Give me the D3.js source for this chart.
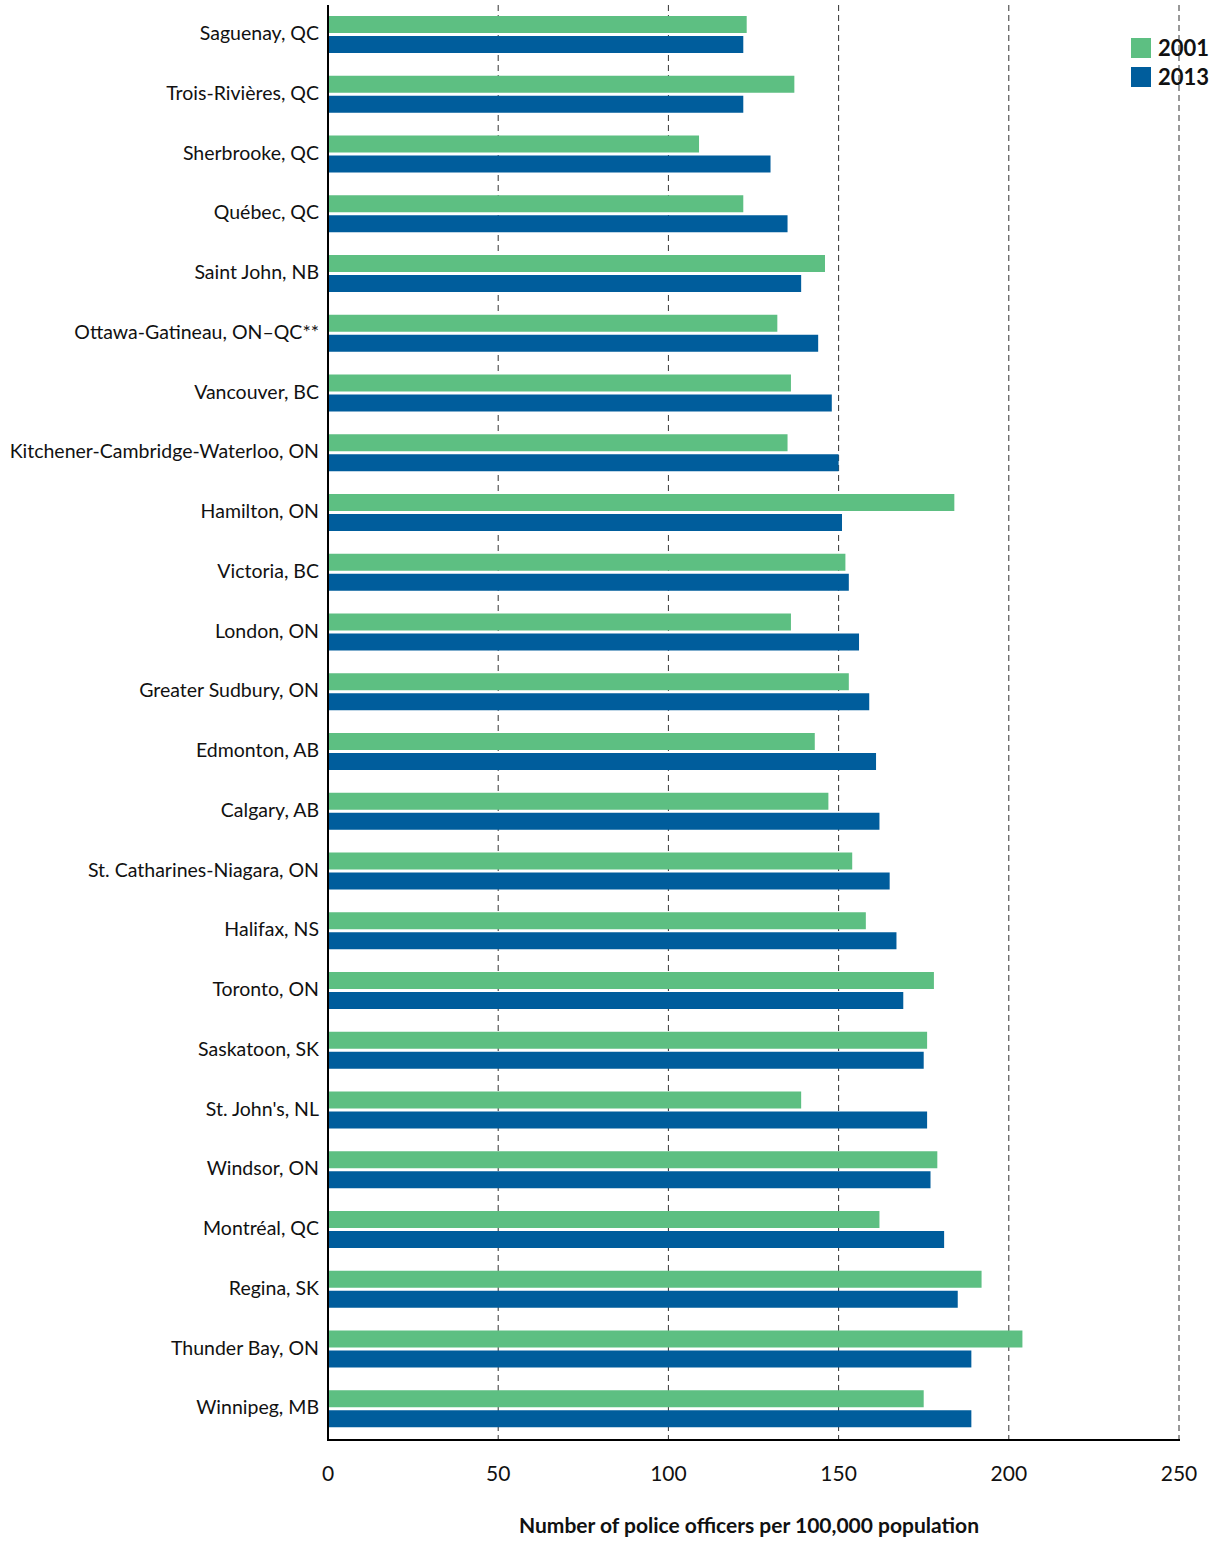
<!DOCTYPE html>
<html><head><meta charset="utf-8">
<script src="https://cdn.jsdelivr.net/npm/d3@7"></script>
<style>body{margin:0;background:#fff;font-family:Lato,"Open Sans",sans-serif}</style>
</head><body><svg id="chart" width="1213" height="1541"></svg>
<script>
var cities = ["Saguenay, QC","Trois-Rivières, QC","Sherbrooke, QC","Québec, QC","Saint John, NB","Ottawa-Gatineau, ON–QC**","Vancouver, BC","Kitchener-Cambridge-Waterloo, ON","Hamilton, ON","Victoria, BC","London, ON","Greater Sudbury, ON","Edmonton, AB","Calgary, AB","St. Catharines-Niagara, ON","Halifax, NS","Toronto, ON","Saskatoon, SK","St. John's, NL","Windsor, ON","Montréal, QC","Regina, SK","Thunder Bay, ON","Winnipeg, MB"];
var v2001 = [123,137,109,122,146,132,136,135,184,152,136,153,143,147,154,158,178,176,139,179,162,192,204,175];
var v2013 = [122,122,130,135,139,144,148,150,151,153,156,159,161,162,165,167,169,175,176,177,181,185,189,189];
var ticks = [0,50,100,150,200,250];
var series = [{name:"2001", values:v2001, color:"#5dbf82"},{name:"2013", values:v2013, color:"#005d9c"}];

var svg = d3.select("#chart");
var x = d3.scaleLinear().domain([0,250]).range([328,1179]);
var y = d3.scaleBand().domain(cities).range([5,1439]);

// grid
svg.selectAll(".grid").data(ticks.slice(1)).enter().append("line")
  .attr("x1", function(d){return x(d);}).attr("x2", function(d){return x(d);})
  .attr("y1", 5).attr("y2", 1439)
  .attr("stroke", "#333").attr("stroke-width", 1).attr("stroke-dasharray", "6,4");

// bars
series.forEach(function(s, i) {
  svg.selectAll(".bar" + i).data(s.values).enter().append("rect")
    .attr("x", x(0))
    .attr("y", function(d, j){return y(cities[j]) + 11 + i*20;})
    .attr("width", function(d){return x(d) - x(0);})
    .attr("height", 17)
    .attr("fill", s.color);
});

// category labels
svg.selectAll(".cat").data(cities).enter().append("text")
  .attr("x", 319).attr("y", function(d){return y(d) + 35;})
  .attr("text-anchor", "end").attr("font-size", 19.5).attr("fill", "#111")
  .text(function(d){return d;});

// axes
svg.append("line").attr("x1", 328).attr("x2", 328).attr("y1", 5).attr("y2", 1440).attr("stroke", "#000").attr("stroke-width", 2);
svg.append("line").attr("x1", 327).attr("x2", 1180).attr("y1", 1440).attr("y2", 1440).attr("stroke", "#000").attr("stroke-width", 2);
svg.selectAll(".tick").data(ticks).enter().append("text")
  .attr("x", function(d){return x(d);}).attr("y", 1481)
  .attr("text-anchor", "middle").attr("font-size", 21).attr("fill", "#111")
  .text(function(d){return d;});
svg.append("text").attr("x", 749).attr("y", 1533).attr("text-anchor", "middle")
  .attr("font-size", 21).attr("font-weight", "bold").attr("fill", "#111")
  .text("Number of police officers per 100,000 population");

// legend
var lg = svg.selectAll(".lg").data(series).enter().append("g")
  .attr("transform", function(d, i){return "translate(1131," + (38 + i*29) + ")";});
lg.append("rect").attr("width", 20).attr("height", 20).attr("fill", function(d){return d.color;});
lg.append("text").attr("x", 27).attr("y", 18).attr("font-size", 22).attr("font-weight", "bold").attr("fill", "#111")
  .text(function(d){return d.name;});
</script></body></html>
